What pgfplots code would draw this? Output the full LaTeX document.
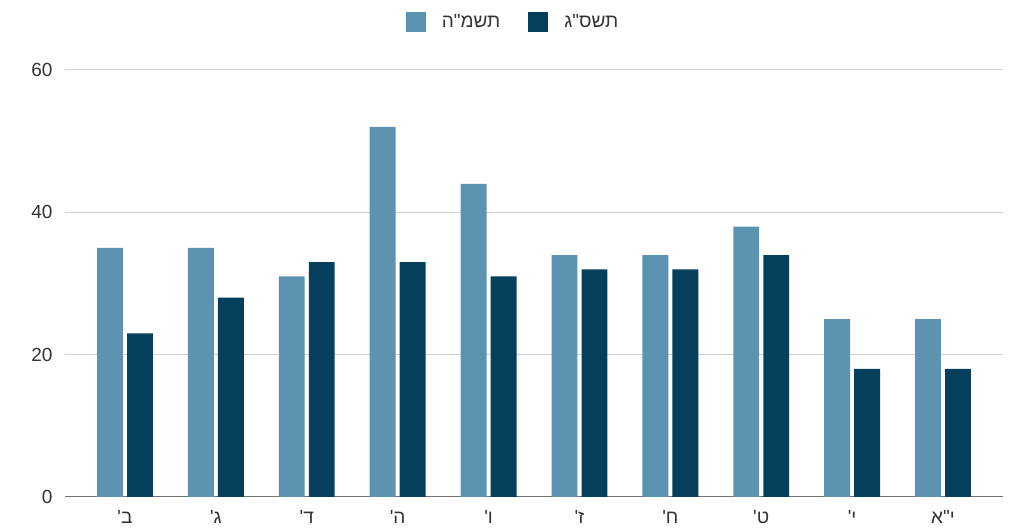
\documentclass[border=0pt]{standalone}
\usepackage{pgfplots}
\pgfplotsset{compat=1.18}
\usepackage{fontspec}
\setmainfont{Liberation Sans}
\newfontfamily\hebfont[Script=Hebrew]{Liberation Sans}
\TeXXeTstate=1
\definecolor{lightb}{HTML}{5B93B0}
\definecolor{darkb}{HTML}{053F5C}
\definecolor{gridc}{HTML}{D0D0D0}
\begin{document}
\begin{tikzpicture}[x=1bp,y=1bp]
\path (0,0) rectangle (1012,531);
\begin{axis}[
  at={(65bp,34bp)}, anchor=south west,
  scale only axis, width=938bp, height=427bp,
  ybar, bar width=0.285, 
  xmin=-0.66, xmax=9.66, ymin=0, ymax=60,
  ytick={0,20,40,60},
  xtick={0,...,9},
  xticklabels={{ב'},{ג'},{ד'},{ה'},{ו'},{\beginR ז'\endR},{\beginR ח'\endR},{\beginR ט'\endR},{\beginR י'\endR},{\beginR י"א\endR}},
  x tick label style={font=\hebfont\fontsize{19bp}{21bp}\selectfont, text=black!80, yshift=-10bp},
  y tick label style={font=\fontsize{19bp}{21bp}\selectfont, text=black!80, xshift=-9bp},
  /pgf/number format/assume math mode=true,
  major tick length=0pt,
  ymajorgrids, grid style={gridc, line width=1bp},
  axis x line*=bottom, axis y line*=left,
  y axis line style={draw=none},
  x axis line style={black!55, line width=1bp},
  legend style={at={(0.5,1.0)}, anchor=center, xshift=-21bp, yshift=48bp, draw=none, fill=none,
    legend columns=2, font=\hebfont\fontsize{19bp}{21bp}\selectfont, text=black!80,
    /tikz/every even column/.append style={column sep=26bp}},
  legend image code/.code={\fill[#1] (-2bp,-10bp) rectangle (18bp,10bp);},
  legend cell align=left,
  clip=false,
]
\addplot[fill=lightb, draw=none, bar shift=-0.165] coordinates {(0,35) (1,35) (2,31) (3,52) (4,44) (5,34) (6,34) (7,38) (8,25) (9,25)};
\addplot[fill=darkb, draw=none, bar shift=0.165] coordinates {(0,23) (1,28) (2,33) (3,33) (4,31) (5,32) (6,32) (7,34) (8,18) (9,18)};
\legend{{\hspace{14bp}\beginR תשמ"ה\endR},{\hspace{14bp}\beginR תשס"ג\endR}}
\end{axis}
\end{tikzpicture}
\end{document}
